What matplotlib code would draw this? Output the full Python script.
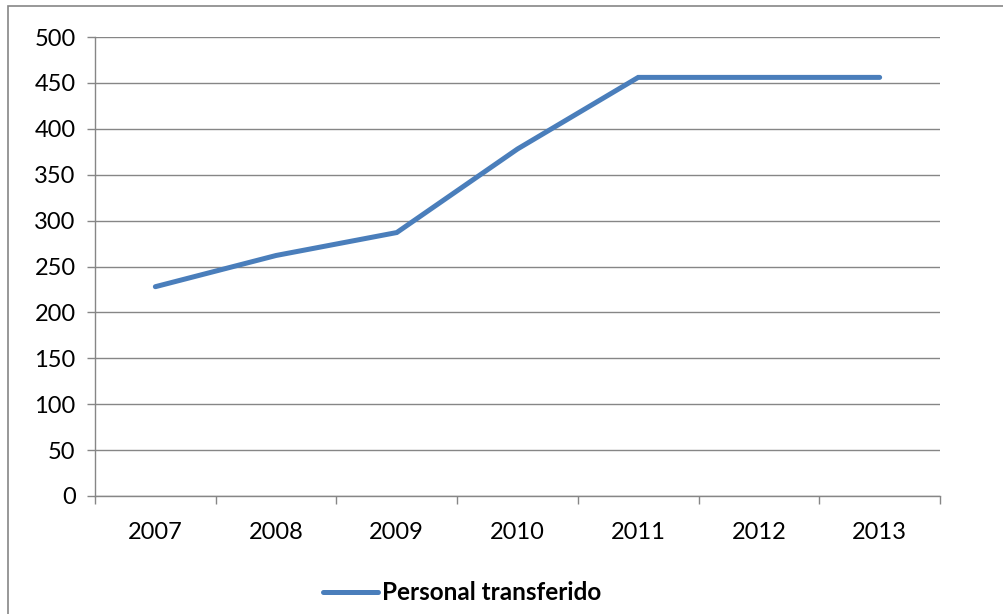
import matplotlib.pyplot as plt
from matplotlib.patches import Rectangle
import numpy as np

years = ['2007', '2008', '2009', '2010', '2011', '2012', '2013']
personal = [228, 262, 287, 378, 456, 456, 456]
series_name = 'Personal transferido'

plt.rcParams['font.family'] = ['Lato', 'DejaVu Sans']

fig = plt.figure(figsize=(10.04, 6.14), dpi=100)
ax = fig.add_axes([95 / 1004, 1 - 496 / 614, 845 / 1004, 459 / 614])

# outer chart border (Excel style), partly cut off on the right / bottom
fig.patches.append(Rectangle((8 / 1004, -0.1), 1.2, 1.1 - 6 / 614, transform=fig.transFigure,
                             fill=False, edgecolor='#868686', linewidth=1.2))

x = np.arange(len(years))
line, = ax.plot(x, personal, color='#4A7EBB', linewidth=3.6, solid_capstyle='round',
                solid_joinstyle='miter', label=series_name, zorder=3)

grid_c = '#868686'
ax.set_ylim(0, 500)
ax.set_yticks(np.arange(0, 501, 50))
ax.set_xlim(-0.5, len(years) - 0.5)
ax.set_xticks(x)
ax.set_xticklabels(years)
ax.set_xticks(np.arange(-0.5, len(years), 1), minor=True)
ax.tick_params(axis='x', which='major', length=0, pad=19, labelsize=17)
ax.tick_params(axis='x', which='minor', length=6, color=grid_c, width=1)
ax.tick_params(axis='y', length=6, color=grid_c, width=1, labelsize=17, pad=8)
ax.yaxis.grid(True, color=grid_c, linewidth=1)
ax.set_axisbelow(True)
for s in ['top', 'right']:
    ax.spines[s].set_visible(False)
for s in ['left', 'bottom']:
    ax.spines[s].set_color(grid_c)
    ax.spines[s].set_linewidth(1)

leg = fig.legend(handles=[line], loc='center', bbox_to_anchor=(462 / 1004, 1 - 593 / 614),
                 frameon=False, handlelength=2.25, handletextpad=0.15,
                 prop={'weight': 'bold', 'size': 17.5})

fig.savefig('out.png', dpi=100)
